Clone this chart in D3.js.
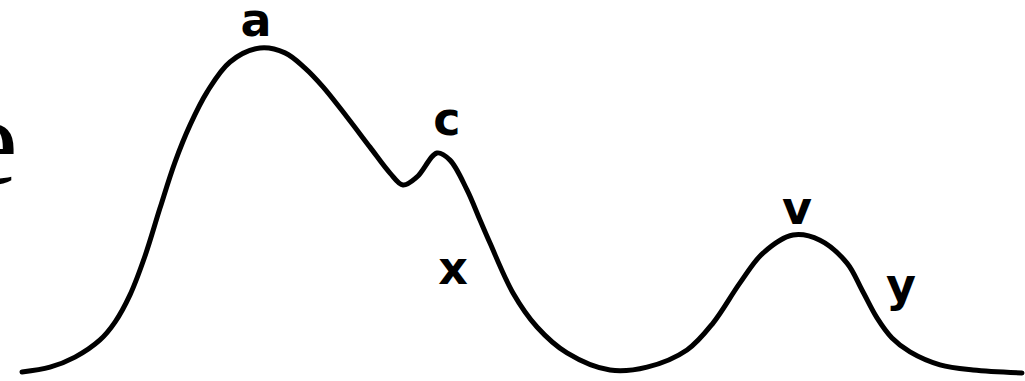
<!DOCTYPE html>
<html>
<head>
<meta charset="utf-8">
<script src="https://cdn.jsdelivr.net/npm/d3@7"></script>
<style>
  html, body { margin: 0; padding: 0; background: #fff; }
  svg { display: block; }
</style>
</head>
<body>
<svg id="wave" width="1025" height="381"></svg>
<script>
// pulse wave (time 0-100, amplitude 0-100)
const times = [0, 2.8, 5.3, 7.8, 9.3, 10.8, 12.3, 13.8, 15.3, 16.8, 18.5, 20.8, 23.8, 26.3, 28.3, 30.1,
  32.5, 34.8, 36.8, 38.1, 39.5, 41.5, 42.8, 44.5, 45.8, 46.8, 49.1, 51.5, 54.5, 58.8, 62.5, 66.5,
  69.1, 71.8, 74.1, 77.1, 79.8, 82.5, 84.0, 85.5, 87.0, 88.8, 91.8, 95.1, 100];
const amplitude = [0, 1.5, 4.6, 9.9, 15.4, 23.8, 35.8, 50.6, 64.8, 76.2, 86.4, 95.7, 100, 98.5, 93.8, 88.0,
  78.7, 69.4, 61.4, 57.7, 60.2, 67.6, 65.4, 56.2, 46.9, 39.8, 24.4, 13.9, 5.9, 0.6, 1.5, 6.8,
  15.1, 27.5, 36.7, 42.3, 40.7, 33.6, 25.3, 16.7, 10.5, 6.2, 2.2, 0.6, -0.3];

// wave labels and where they sit (data units)
const labelNames = ["a", "c", "x", "v", "y"];
const labelTimes = [23.4, 42.5, 43.1, 77.5, 87.9];
const labelAmps = [103.6, 73.1, 27.2, 45.7, 21.9];

const svg = d3.select("#wave");
const x = d3.scaleLinear().domain([0, 100]).range([22, 1022]);
const y = d3.scaleLinear().domain([0, 100]).range([372, 48]);

const data = times.map((t, i) => ({t: t, v: amplitude[i]}));

const line = d3.line()
    .x(d => x(d.t))
    .y(d => y(d.v))
    .curve(d3.curveCatmullRom.alpha(0.5));

svg.append("path")
    .datum(data)
    .attr("d", line)
    .attr("fill", "none")
    .attr("stroke", "#000")
    .attr("stroke-width", 5)
    .attr("stroke-linecap", "round")
    .attr("stroke-linejoin", "round");

svg.selectAll("text.lbl")
    .data(labelNames)
    .join("text")
    .attr("class", "lbl")
    .attr("x", (d, i) => x(labelTimes[i]))
    .attr("y", (d, i) => y(labelAmps[i]))
    .attr("text-anchor", "middle")
    .style("font-family", "'DejaVu Sans', sans-serif")
    .style("font-weight", "bold")
    .style("font-size", "46px")
    .text(d => d);

// big letter cut off at the left edge
svg.append("text")
    .attr("x", -38)
    .attr("y", 184)
    .style("font-family", "'Liberation Serif', serif")
    .style("font-size", "126px")
    .text("e");
</script>
</body>
</html>
